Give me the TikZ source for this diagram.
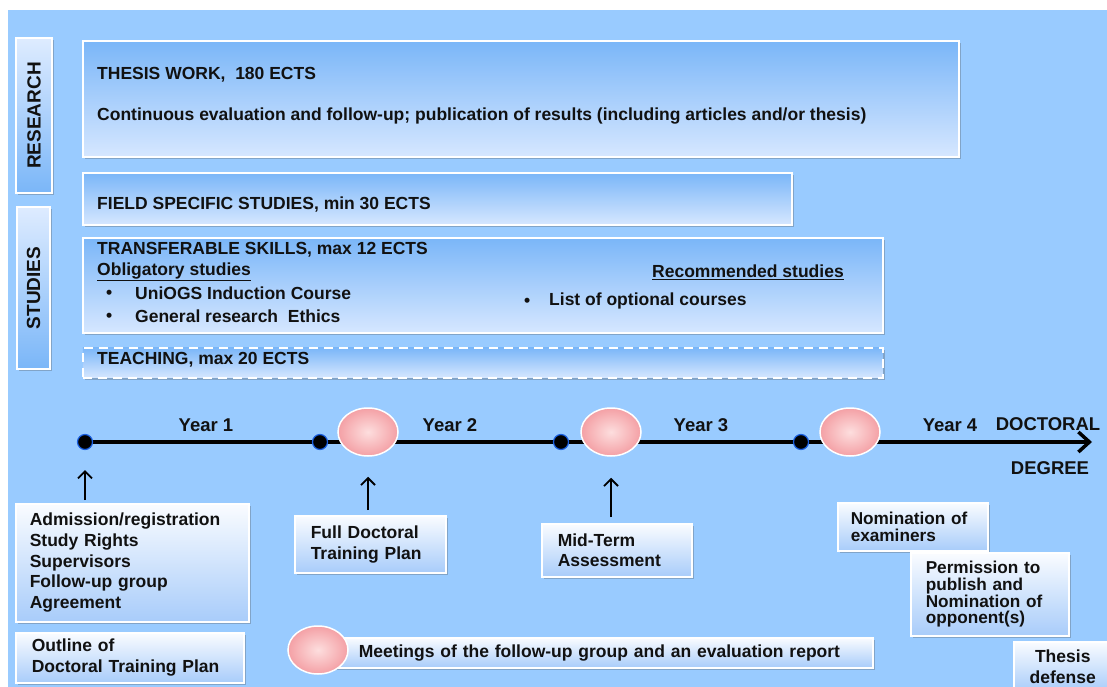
\documentclass[tikz,border=0pt]{standalone}
\usepackage{fontspec}
\setmainfont{Liberation Sans}
\usetikzlibrary{arrows.meta, positioning, shapes.geometric, shadows}

\definecolor{bgblue}{RGB}{153,203,255}
\definecolor{paneltop}{RGB}{122,182,248}
\definecolor{panelbot}{RGB}{214,231,255}
\definecolor{cardtop}{RGB}{250,252,255}
\definecolor{cardbot}{RGB}{168,204,250}
\definecolor{pinkin}{RGB}{253,222,222}
\definecolor{pinkout}{RGB}{244,160,165}
\definecolor{dotblue}{RGB}{25,95,225}
\definecolor{ink}{RGB}{17,17,17}

\newcommand\cardfont{\fontsize{17.5}{20.7}\selectfont\bfseries}
\newcommand\tightfont{\fontsize{17.2}{16.6}\selectfont\bfseries}
\newcommand\sidefont{\fontsize{19}{20}\selectfont\bfseries}
\newcommand\yearfont{\fontsize{18.5}{20}\selectfont\bfseries}

\tikzset{
  boxshadow/.style={drop shadow={shadow xshift=2pt, shadow yshift=-2pt, opacity=0.3, fill=black!70}},
  panel/.style={draw=white, line width=1.6pt, top color=paneltop, bottom color=panelbot,
    anchor=north west, inner sep=0pt, boxshadow},
  sidebox/.style={draw=white, line width=1.6pt, rotate=90, top color=panelbot!80!white,
    bottom color=paneltop, inner sep=0pt, font=\sidefont, text=ink, boxshadow},
  card/.style={draw=white, line width=1.5pt, top color=cardtop, bottom color=cardbot,
    anchor=north west, align=left, inner ysep=0pt, font=\cardfont, text=ink, boxshadow},
  txt/.style={anchor=west, inner sep=0pt, font=\cardfont, text=ink},
  year/.style={inner sep=0pt, font=\yearfont, text=ink},
  tick/.style={circle, fill=black, draw=dotblue, line width=1.2pt, minimum size=15pt, inner sep=0pt},
  meet/.style={ellipse, draw=white, line width=1.5pt, inner color=pinkin, outer color=pinkout,
    minimum width=60pt, minimum height=48pt, inner sep=0pt},
  uparrow/.style={draw=black, line width=1.8pt, -{Straight Barb[length=7pt,width=14pt]}},
}

\begin{document}
\begin{tikzpicture}[x=1pt, y=-1pt]
  \useasboundingbox (0,0) rectangle (1107,687);
  \fill[white] (0,0) rectangle (1107,687);
  \fill[bgblue] (8,10) rectangle (1107,687);

  % side labels
  \node[sidebox, minimum width=155pt, minimum height=36pt] (research) at (34,115.5) {RESEARCH};
  \node[sidebox, minimum width=162pt, minimum height=33pt] (studies) at (33.5,288) {STUDIES};

  % research and studies blocks
  \node[panel, minimum width=876pt, minimum height=116pt] (thesis) at (82,40) {};
  \node[txt] (thesistitle) at (97,75) {THESIS WORK, \ 180 ECTS};
  \node[txt] (thesisnote) at (97,116)
    {Continuous evaluation and follow-up; publication of results (including articles and/or thesis)};

  \node[panel, minimum width=709pt, minimum height=52pt] (field) at (82,172) {};
  \node[txt] (fieldtext) at (97,205) {FIELD SPECIFIC STUDIES, min 30 ECTS};

  \node[panel, minimum width=800pt, minimum height=95pt] (skills) at (82,237) {};
  \node[txt] (skillstitle) at (97,250) {TRANSFERABLE SKILLS, max 12 ECTS};
  \node[txt] (oblig) at (97,272) {\underline{Obligatory studies}};
  \node[txt] (bulleta) at (106,294) {•};
  \node[txt] (induction) at (135,293) {UniOGS Induction Course};
  \node[txt] (bulletb) at (106,317) {•};
  \node[txt] (ethics) at (135,316) {General research \ Ethics};
  \node[txt] (recomm) at (652,272) {\underline{Recommended studies}};
  \node[txt] (bulletc) at (524,302) {•};
  \node[txt] (optional) at (549,301) {List of optional courses};

  \node[panel, dash pattern=on 9pt off 6pt, minimum width=800pt, minimum height=30pt] (teaching) at (82,347) {};
  \node[txt] (teachtext) at (97,360) {TEACHING, max 20 ECTS};

  % timeline
  \coordinate (start) at (85,442);
  \coordinate (tend) at (1092,442);
  \draw[line width=4.5pt, -{Straight Barb[length=11pt,width=20pt,line width=3.5pt]}] (start) -- (tend);
  \node[tick] (t0) at (start) {};
  \node[tick] (t1) at (320,442) {};
  \node[tick] (t2) at (561,442) {};
  \node[tick] (t3) at (801,442) {};
  \node[meet] (m1) at (368,432) {};
  \node[meet] (m2) at (611,432) {};
  \node[meet] (m3) at (850,432) {};

  \node[year] (y1) at (206,425) {Year 1};
  \node[year] (y2) at (450,425) {Year 2};
  \node[year] (y3) at (701,425) {Year 3};
  \node[year] (y4) at (950,425) {Year 4};
  \node[year] (doctoral) at (1048,424) {DOCTORAL};
  \node[year] (degree) at (1050,468) {DEGREE};

  % milestones
  \node[card, minimum width=233pt, minimum height=118pt, inner xsep=14pt, text width=205pt] (admit) at (15,503)
    {Admission/registration\\Study Rights\\Supervisors\\Follow-up group\\Agreement};
  \node[card, minimum width=228pt, minimum height=50pt, inner xsep=16pt, text width=196pt] (outline) at (15,632)
    {Outline of\\Doctoral Training Plan};
  \node[card, minimum width=151pt, minimum height=57pt, inner xsep=16pt, text width=119pt] (fdtp) at (294,515)
    {Full Doctoral\\Training Plan};
  \node[card, minimum width=150pt, minimum height=53pt, inner xsep=16pt, text width=118pt] (midterm) at (541,523)
    {Mid-Term\\Assessment};
  \node[card, font=\tightfont, minimum width=150pt, minimum height=48pt, inner xsep=13pt, text width=124pt] (examiners) at (837,502)
    {Nomination of\\examiners};
  \node[card, font=\tightfont, minimum width=158pt, minimum height=83pt, inner xsep=15pt, text width=128pt] (permit) at (910,552)
    {Permission to\\publish and\\Nomination of\\opponent(s)};
  \node[card, align=center, minimum width=98pt, minimum height=50pt, inner xsep=10pt, text width=78pt] (defense) at (1013,641)
    {Thesis\\defense};

  \draw[uparrow, shorten <=3pt, shorten >=20pt] (admit.north -| t0) -- (t0);
  \draw[uparrow, shorten <=5pt, shorten >=20pt] (fdtp.north -| m1) -- (m1);
  \draw[uparrow, shorten <=6pt, shorten >=21pt] (midterm.north -| m2) -- (m2);

  % legend
  \node[card, minimum width=542pt, minimum height=30pt, inner xsep=28pt, text width=486pt] (meetbox) at (330,637)
    {Meetings of the follow-up group and an evaluation report};
  \node[meet] (legend) at (318,650) {};
\end{tikzpicture}
\end{document}
